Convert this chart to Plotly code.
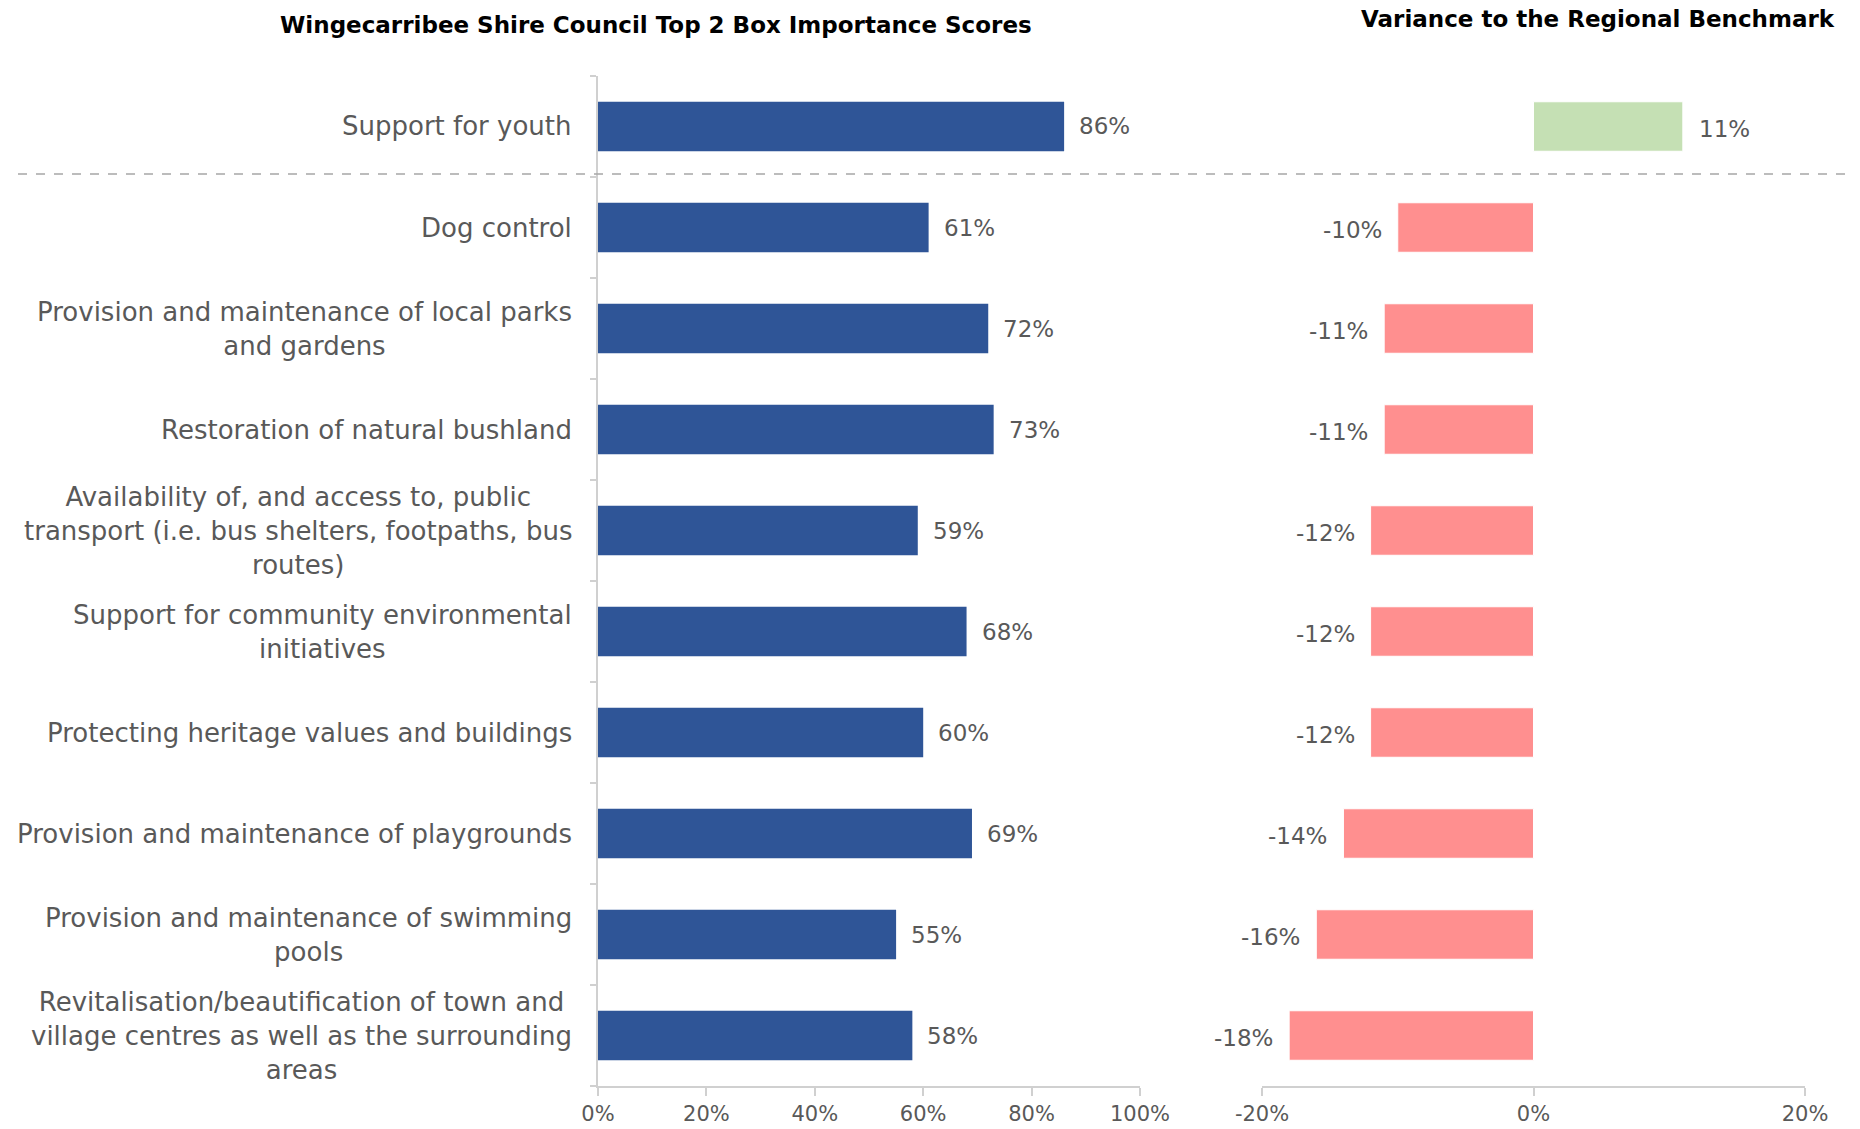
import plotly.graph_objects as go

# Service areas, top to bottom
categories = [
    "Support for youth",
    "Dog control",
    "Provision and maintenance of local parks<br>and gardens",
    "Restoration of natural bushland",
    "Availability of, and access to, public<br>transport (i.e. bus shelters, footpaths, bus<br>routes)",
    "Support for community environmental<br>initiatives",
    "Protecting heritage values and buildings",
    "Provision and maintenance of playgrounds",
    "Provision and maintenance of swimming<br>pools",
    "Revitalisation/beautification of town and<br>village centres as well as the surrounding<br>areas",
]
# Top 2 box importance (%)
importance = [86, 61, 72, 73, 59, 68, 60, 69, 55, 58]
# Variance to the regional benchmark (percentage points)
variance = [11, -10, -11, -11, -12, -12, -12, -14, -16, -18]

left_ticks = [0, 20, 40, 60, 80, 100]
left_tick_text = ["0%", "20%", "40%", "60%", "80%", "100%"]
right_ticks = [-20, 0, 20]
right_tick_text = ["-20%", "0%", "20%"]

FONT = "DejaVu Sans"
GREY = "#595959"
AXIS = "#D0D0D0"
W, H = 1860, 1129

pos = list(range(len(categories)))

fig = go.Figure()
fig.add_trace(go.Bar(
    x=importance, y=pos, orientation="h",
    marker=dict(color="#2F5597", line=dict(width=0)),
    width=0.49, xaxis="x", yaxis="y", hoverinfo="skip",
))
fig.add_trace(go.Bar(
    x=variance, y=pos, orientation="h",
    marker=dict(color=["#C5E0B4" if v > 0 else "#FF8F8F" for v in variance],
                line=dict(width=1, color="#FFFFFF")),
    width=0.49, xaxis="x2", yaxis="y2", hoverinfo="skip",
))

ann = []
# category labels, centred block right-aligned against the axis
for i, c in enumerate(categories):
    ann.append(dict(
        x=574 / W, xref="paper", y=i, yref="y", text=c,
        xanchor="right", yanchor="middle", align="center", showarrow=False,
        font=dict(family=FONT, size=26, color=GREY),
    ))
# value labels
for i, v in enumerate(importance):
    ann.append(dict(
        x=v, xref="x", y=i, yref="y", text=f"{v}%",
        xanchor="left", yanchor="middle", xshift=13, showarrow=False,
        font=dict(family=FONT, size=23, color=GREY),
    ))
for i, v in enumerate(variance):
    ann.append(dict(
        x=v, xref="x2", y=i, yref="y2", text=f"{v}%",
        xanchor="left" if v > 0 else "right", yanchor="middle",
        xshift=14 if v > 0 else -14, yshift=-2, showarrow=False,
        font=dict(family=FONT, size=23, color=GREY),
    ))
# panel headings
ann.append(dict(
    x=656 / W, xref="paper", y=1 - 25 / H, yref="paper",
    text="<b>Wingecarribee Shire Council Top 2 Box Importance Scores</b>",
    xanchor="center", yanchor="middle", showarrow=False,
    font=dict(family=FONT, size=23, color="#000000"),
))
ann.append(dict(
    x=1598 / W, xref="paper", y=1 - 19 / H, yref="paper",
    text="<b>Variance to the Regional Benchmark</b>",
    xanchor="center", yanchor="middle", showarrow=False,
    font=dict(family=FONT, size=23, color="#000000"),
))

ydom = [1 - 1086 / H, 1 - 76 / H]
boundaries = [i - 0.5 for i in range(len(categories) + 1)]

fig.update_layout(
    width=W, height=H,
    margin=dict(l=0, r=0, t=0, b=0, autoexpand=False),
    paper_bgcolor="white", plot_bgcolor="white",
    showlegend=False,
    barmode="overlay",
    annotations=ann,
    xaxis=dict(
        domain=[598 / W, 1140 / W], range=[0, 100], anchor="y", automargin=False,
        tickvals=left_ticks, ticktext=left_tick_text,
        showgrid=False, zeroline=False,
        showline=True, linecolor=AXIS, linewidth=2,
        ticks="outside", ticklen=8, tickcolor=AXIS, tickwidth=2,
        tickfont=dict(family=FONT, size=21, color=GREY),
    ),
    yaxis=dict(
        domain=ydom, range=[len(categories) - 0.5, -0.5], anchor="x", automargin=False,
        tickvals=boundaries, ticktext=[""] * len(boundaries),
        showgrid=False, zeroline=False,
        showline=True, linecolor=AXIS, linewidth=2,
        ticks="outside", ticklen=6, tickcolor=AXIS, tickwidth=2,
    ),
    xaxis2=dict(
        domain=[1262 / W, 1805 / W], range=[-20, 20], anchor="y2", automargin=False,
        tickvals=right_ticks, ticktext=right_tick_text,
        showgrid=False, zeroline=False,
        showline=True, linecolor=AXIS, linewidth=2,
        ticks="outside", ticklen=8, tickcolor=AXIS, tickwidth=2,
        tickfont=dict(family=FONT, size=21, color=GREY),
    ),
    yaxis2=dict(
        domain=ydom, range=[len(categories) - 0.5, -0.5], anchor="x2", automargin=False,
        showticklabels=False, showgrid=False, zeroline=False, showline=False,
    ),
    shapes=[dict(
        type="line", xref="paper", yref="y", x0=18 / W, x1=1847 / W, y0=0.47, y1=0.47,
        line=dict(color="#A6A6A6", width=1.5, dash="dash"),
    )],
)

fig.write_html("out.html")
